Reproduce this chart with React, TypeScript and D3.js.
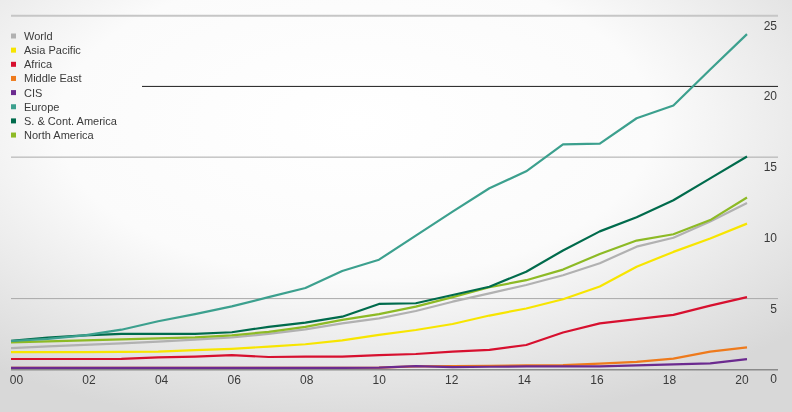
import { useRef, useEffect } from "react";
import * as d3 from "d3";

const years = d3.range(2000, 2021);

const world = [1.5, 1.62, 1.72, 1.83, 1.95, 2.1, 2.25, 2.5, 2.82, 3.25, 3.6, 4.12, 4.78, 5.37, 5.96, 6.65, 7.5, 8.67, 9.3, 10.45, 11.75];
const asiaPacific = [1.22, 1.22, 1.22, 1.23, 1.25, 1.35, 1.45, 1.6, 1.77, 2.05, 2.43, 2.78, 3.2, 3.8, 4.3, 4.95, 5.85, 7.25, 8.3, 9.25, 10.3];
const africa = [0.73, 0.73, 0.73, 0.74, 0.85, 0.9, 1.0, 0.87, 0.9, 0.9, 1.0, 1.08, 1.25, 1.37, 1.72, 2.6, 3.25, 3.55, 3.85, 4.5, 5.1];
const middleEast = [0.1, 0.1, 0.1, 0.1, 0.1, 0.1, 0.1, 0.1, 0.1, 0.11, 0.12, 0.2, 0.22, 0.25, 0.28, 0.3, 0.4, 0.52, 0.75, 1.25, 1.55];
const cis = [0.1, 0.1, 0.1, 0.1, 0.1, 0.1, 0.1, 0.1, 0.1, 0.1, 0.12, 0.22, 0.15, 0.18, 0.2, 0.2, 0.2, 0.28, 0.35, 0.42, 0.72];
const europe = [2.0, 2.15, 2.4, 2.8, 3.4, 3.9, 4.45, 5.1, 5.75, 6.95, 7.75, 9.45, 11.15, 12.8, 14.0, 15.9, 15.95, 17.75, 18.65, 21.2, 23.7];
const scAmerica = [2.02, 2.25, 2.4, 2.5, 2.5, 2.5, 2.62, 3.0, 3.3, 3.72, 4.62, 4.67, 5.25, 5.84, 6.9, 8.4, 9.75, 10.75, 11.95, 13.5, 15.05];
const northAmerica = [1.9, 1.98, 2.05, 2.12, 2.18, 2.26, 2.4, 2.65, 3.0, 3.5, 3.9, 4.43, 5.1, 5.8, 6.3, 7.05, 8.15, 9.1, 9.55, 10.55, 12.15];

const seriesNames = ["World", "Asia Pacific", "Africa", "Middle East", "CIS", "Europe", "S. & Cont. America", "North America"];
const seriesValues = [world, asiaPacific, africa, middleEast, cis, europe, scAmerica, northAmerica];
const seriesColors = ["#b1b1b1", "#f7e500", "#d7102f", "#ee7a1c", "#6b2a8f", "#3ca08e", "#006b4c", "#8dba25"];
// order in which lines are stacked (last on top)
const drawOrder = [3, 4, 2, 1, 0, 7, 6, 5];

const yTicks = [0, 5, 10, 15, 20, 25];
const xTickYears = d3.range(2000, 2021, 2);
const xTickLabels = ["00", "02", "04", "06", "08", "10", "12", "14", "16", "18", "20"];

export default function App() {
  const svgRef = useRef<SVGSVGElement>(null);

  const width = 792;
  const height = 412;

  useEffect(() => {
    if (!svgRef.current) return;
    const svg = d3.select(svgRef.current);
    svg.selectAll("*").remove();

    const xScale = d3.scaleLinear().domain([2000, 2020]).range([11, 747]);
    const xLabelScale = d3.scaleLinear().domain([2000, 2020]).range([16.5, 742]);
    const yScale = d3.scaleLinear().domain([0, 25]).range([369.3, 15.7]);

    // Background
    const defs = svg.append("defs");
    const grad = defs
      .append("radialGradient")
      .attr("id", "bg")
      .attr("cx", "45%")
      .attr("cy", "30%")
      .attr("r", "75%");
    grad.append("stop").attr("offset", "0%").attr("stop-color", "#ffffff");
    grad.append("stop").attr("offset", "50%").attr("stop-color", "#fbfbfb");
    grad.append("stop").attr("offset", "100%").attr("stop-color", "#d8d8d8");
    svg.append("rect").attr("width", width).attr("height", height).attr("fill", "url(#bg)");

    // Grid lines
    const grid = svg.append("g");
    grid.append("line")
      .attr("x1", 11).attr("x2", 778)
      .attr("y1", yScale(25)).attr("y2", yScale(25))
      .attr("stroke", "#c6c6c6").attr("stroke-width", 2);
    grid.append("line")
      .attr("x1", 142).attr("x2", 778)
      .attr("y1", yScale(20)).attr("y2", yScale(20))
      .attr("stroke", "#1e1e1e").attr("stroke-width", 1);
    [15, 5].forEach((v) => {
      grid.append("line")
        .attr("x1", 11).attr("x2", 778)
        .attr("y1", yScale(v)).attr("y2", yScale(v))
        .attr("stroke", "#aaaaaa").attr("stroke-width", 1);
    });
    grid.append("line")
      .attr("x1", 11).attr("x2", 778)
      .attr("y1", yScale(0) + 0.5).attr("y2", yScale(0) + 0.5)
      .attr("stroke", "#8a8a8a").attr("stroke-width", 1.5);

    // Right axis labels (below each grid line)
    svg.append("g")
      .selectAll("text")
      .data(yTicks)
      .join("text")
      .attr("x", 777)
      .attr("y", (d) => yScale(d) + 14)
      .attr("text-anchor", "end")
      .attr("font-family", "'Liberation Sans', Arial, sans-serif")
      .attr("font-size", 12)
      .attr("fill", "#3a3a3a")
      .text((d) => String(d));

    // Bottom axis labels
    svg.append("g")
      .selectAll("text")
      .data(xTickYears)
      .join("text")
      .attr("x", (d) => xLabelScale(d))
      .attr("y", 383.5)
      .attr("text-anchor", "middle")
      .attr("font-family", "'Liberation Sans', Arial, sans-serif")
      .attr("font-size", 12)
      .attr("fill", "#3a3a3a")
      .text((_, i) => xTickLabels[i]);

    // Lines
    const lineGen = d3
      .line<number>()
      .x((_, i) => xScale(years[i]))
      .y((d) => yScale(d));

    const linesG = svg.append("g");
    drawOrder.forEach((idx) => {
      linesG.append("path")
        .datum(seriesValues[idx])
        .attr("fill", "none")
        .attr("stroke", seriesColors[idx])
        .attr("stroke-width", 2.2)
        .attr("stroke-linejoin", "round")
        .attr("d", lineGen);
    });

    // Legend
    const legend = svg.append("g");
    seriesNames.forEach((name, i) => {
      const y = 36 + i * 14.15;
      legend.append("rect")
        .attr("x", 11).attr("y", y - 2.5)
        .attr("width", 5).attr("height", 5)
        .attr("fill", seriesColors[i]);
      legend.append("text")
        .attr("x", 24).attr("y", y + 4)
        .attr("font-family", "'Liberation Sans', Arial, sans-serif")
        .attr("font-size", 11)
        .attr("fill", "#3a3a3a")
        .text(name);
    });
  }, []);

  return (
    <svg
      ref={svgRef}
      width={width}
      height={height}
      viewBox={`0 0 ${width} ${height}`}
      style={{ position: "fixed", left: 0, top: 0, display: "block" }}
    />
  );
}
